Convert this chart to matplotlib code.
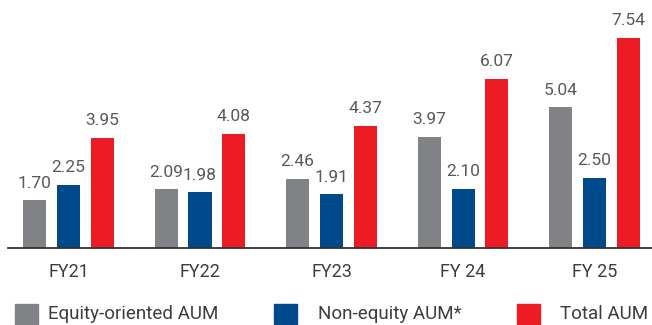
import matplotlib.pyplot as plt
import numpy as np
from matplotlib.patches import Rectangle

plt.rcParams['font.family'] = ['Roboto', 'DejaVu Sans']

years = ['FY21', 'FY22', 'FY23', 'FY 24', 'FY 25']
equity_aum = [1.70, 2.09, 2.46, 3.97, 5.04]
non_equity_aum = [2.25, 1.98, 1.91, 2.10, 2.50]
total_aum = [3.95, 4.08, 4.37, 6.07, 7.54]

series = [
    ('Equity-oriented AUM', equity_aum, '#818285'),
    ('Non-equity AUM*', non_equity_aum, '#004a8c'),
    ('Total AUM', total_aum, '#ed1c24'),
]

W, H = 652, 325
fig = plt.figure(figsize=(W / 100, H / 100), dpi=100)
ax = fig.add_axes([8 / W, (H - 247.5) / H, (W - 8) / W, 247.5 / H])

x = np.arange(len(years))
bw = 0.175
step = 0.258
for i, (name, vals, col) in enumerate(series):
    pos = x + (i - 1) * step
    ax.bar(pos, vals, width=bw, color=col, zorder=2)
    for p, v in zip(pos, vals):
        ax.annotate(f'{v:.2f}', (p, v), xytext=(0, 7), textcoords='offset points',
                    ha='center', va='bottom', fontsize=12.5, color='#58595b')

ax.set_xlim(-0.46, 4.437)
ax.set_ylim(0, 8.9)
for s in ['top', 'right', 'left']:
    ax.spines[s].set_visible(False)
ax.spines['bottom'].set_color('#333333')
ax.spines['bottom'].set_linewidth(1.3)
ax.set_yticks([])
ax.set_xticks(x)
ax.set_xticklabels(years, fontsize=13, color='#3d3d3d')
ax.tick_params(axis='x', length=0, pad=11)

# legend row along the bottom
legend_x = [15, 274, 517]
text_x = [48, 318, 560]
ly = 314
for (name, vals, col), bx, tx in zip(series, legend_x, text_x):
    fig.patches.append(Rectangle((bx / W, (H - ly - 10) / H), 23 / W, 20 / H,
                                 transform=fig.transFigure, color=col))
    fig.text(tx / W, (H - ly) / H, name, fontsize=13.5, color='#3d3d3d',
             ha='left', va='center')

fig.savefig('out.png', dpi=100)
